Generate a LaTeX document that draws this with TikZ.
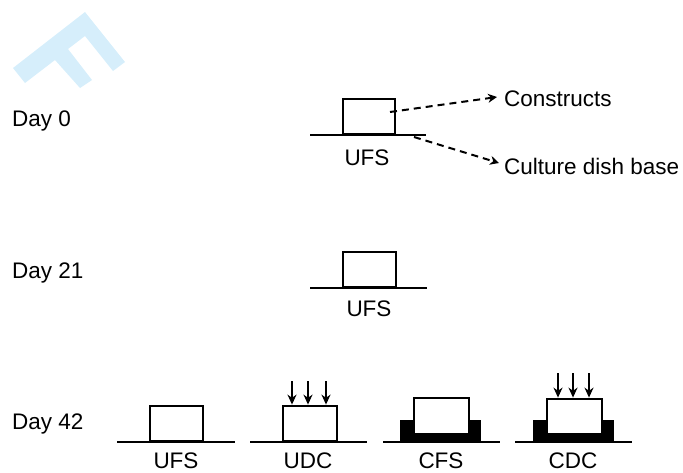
\documentclass[tikz,border=0pt]{standalone}
\usepackage{fontspec}
\setmainfont{Liberation Sans}
\usetikzlibrary{arrows.meta}
\definecolor{wm}{RGB}{214,238,251}
\tikzset{
  lbl/.style={inner sep=0pt, anchor=base, font=\fontsize{22.5}{27}\selectfont},
  daylbl/.style={lbl, anchor=base west},
  sample/.style={draw=black, line width=2.4pt, fill=white, rectangle, inner sep=0pt, anchor=south west},
  base/.style={line width=2.2pt},
  dasharr/.style={line width=2pt, dash pattern=on 7pt off 5pt, -{Stealth[length=9pt,width=9pt]}},
  downarr/.style={line width=2.2pt, -{Stealth[length=10pt,width=9pt]}},
  pad/.style={fill=black}
}
\begin{document}
\begin{tikzpicture}[x=1pt,y=-1pt]
\useasboundingbox (0,0) rectangle (683,472);
% watermark
\fill[wm] (13,68) -- (85,12) -- (125,62) -- (113,71) -- (85,36) -- (68,49) -- (92,80) -- (80,88) -- (55,60) -- (25,83) -- cycle;

% day labels
\node[daylbl] (d0) at (12,126) {Day 0};
\node[daylbl] (d21) at (12,278) {Day 21};
\node[daylbl] (d42) at (12,429) {Day 42};

% Day 0
\draw[base] (310,135) coordinate (l0a) -- (426,135) coordinate (l0b);
\node[sample, minimum width=52pt, minimum height=35pt] (b0) at (342,135) {};
\node[lbl] (u0) at (367,165) {UFS};
\node[daylbl] (cons) at (504,106) {Constructs};
\node[daylbl] (cdb) at (504,174) {Culture dish base};
\coordinate (a1s) at (390,112);
\coordinate (a1e) at (497,97);
\coordinate (a2s) at (414,137);
\coordinate (a2e) at (499,163);
\draw[dasharr] (a1s) -- (a1e);
\draw[dasharr] (a2s) -- (a2e);

% Day 21
\draw[base] (310,288) coordinate (l21a) -- (427,288) coordinate (l21b);
\node[sample, minimum width=53pt, minimum height=35pt] (b21) at (342,288) {};
\node[lbl] (u21) at (369,316) {UFS};

% Day 42 UFS
\draw[base] (117,442) coordinate (l1a) -- (235,442) coordinate (l1b);
\node[sample, minimum width=53pt, minimum height=35pt] (b1) at (149,442) {};
\node[lbl] (t1) at (176,468) {UFS};

% Day 42 UDC
\draw[base] (250,442) coordinate (l2a) -- (367,442) coordinate (l2b);
\node[sample, minimum width=54pt, minimum height=35pt] (b2) at (282,442) {};
\node[lbl] (t2) at (308,468) {UDC};
\foreach \x/\n in {292/1,308/2,326/3}{
  \coordinate (ua\n) at (\x,381);
  \draw[downarr] (ua\n) -- (ua\n |- b2.north);
}

% Day 42 CFS
\draw[base] (383,442) coordinate (l3a) -- (500,442) coordinate (l3b);
\fill[pad] (400,443) -- (400,420) -- (481,420) -- (481,443) -- cycle;
\node[sample, minimum width=55pt, minimum height=36pt] (b3) at (413,435) {};
\node[lbl] (t3) at (441,468) {CFS};

% Day 42 CDC
\draw[base] (515,442) coordinate (l4a) -- (632,442) coordinate (l4b);
\fill[pad] (533,443) -- (533,420) -- (614,420) -- (614,443) -- cycle;
\node[sample, minimum width=55pt, minimum height=35pt] (b4) at (546,435) {};
\node[lbl] (t4) at (573,468) {CDC};
\foreach \x/\n in {558/1,573/2,589/3}{
  \coordinate (ca\n) at (\x,373);
  \draw[downarr] (ca\n) -- (ca\n |- b4.north);
}
\end{tikzpicture}
\end{document}
